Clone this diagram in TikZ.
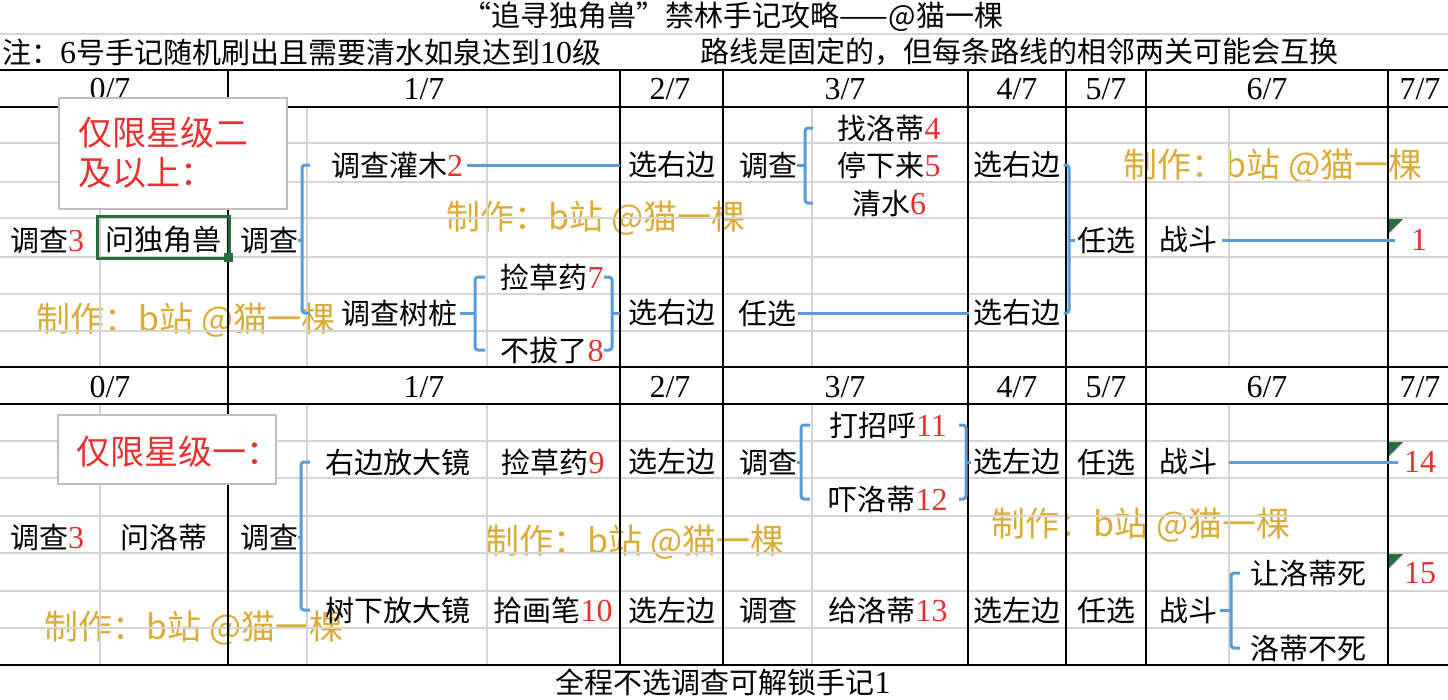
\documentclass[tikz,border=0pt]{standalone}
\usepackage{fontspec}
\setmainfont{Noto Sans CJK SC}
\newfontfamily\ser{Liberation Serif}
\usetikzlibrary{calc}
\definecolor{numred}{RGB}{232,48,48}
\definecolor{conblue}{RGB}{91,155,213}
\definecolor{gridgray}{RGB}{212,212,212}
\definecolor{boxgray}{RGB}{190,190,190}
\definecolor{wmgold}{RGB}{214,164,34}
\definecolor{selgreen}{RGB}{40,110,65}
\newcommand\fs{\fontsize{29}{32}\selectfont}
\newcommand\sfs{\fontsize{32}{34}\selectfont}
\newcommand\rn[1]{{\ser\sfs\color{numred}#1}}
\newcommand\sd[1]{{\ser\sfs #1}}
\begin{document}
\begin{tikzpicture}[x=1pt,y=-1pt,
  t/.style={font=\fs, inner sep=0pt},
  hd/.style={font=\ser\sfs, inner sep=0pt},
  wm/.style={font=\fontsize{34}{36}\selectfont, text=wmgold, inner sep=0pt, text opacity=0.9},
  conn/.style={draw=conblue, line width=3pt, rounded corners=3pt},
  gline/.style={draw=gridgray, line width=1.3pt},
  bline/.style={draw=black, line width=2pt},
  redbox/.style={draw=boxgray, fill=white, line width=1.5pt},
  redtxt/.style={font=\fontsize{34}{38}\selectfont, text=numred, inner sep=0pt}
]
\useasboundingbox (0,0) rectangle (1448,699);
\fill[white] (0,0) rectangle (1448,699);

% watermarks
\node[wm] (w1) at (596,218) {制作：b站 @猫一棵};
\node[wm] (w2) at (186,320) {制作：b站 @猫一棵};
\node[wm] (w3) at (1273,166) {制作：b站 @猫一棵};
\node[wm] (w4) at (635,542) {制作：b站 @猫一棵};
\node[wm] (w5) at (1141,525) {制作：b站 @猫一棵};
\node[wm] (w6) at (194,628) {制作：b站 @猫一棵};

% grid
\draw[gline] (0,34) -- (1448,34);
\foreach \y in {143,182,218,257,294,331,441,478,516,553,591,628}
  \draw[gline] (0,\y) -- (1448,\y);
\foreach \x in {100,307,487,812,1229} {
  \draw[gline] (\x,107) -- (\x,367);
  \draw[gline] (\x,404) -- (\x,665);
}
\foreach \y in {70,107,367,404,665}
  \draw[bline] (0,\y) -- (1448,\y);
\foreach \x in {228,620,723,968,1066,1146,1388}
  \draw[bline] (\x,70) -- (\x,665);

% title and notes
\node[t] (title) at (733,17) {“追寻独角兽”禁林手记攻略——@猫一棵};
\node[t,anchor=west] (note1) at (2,52) {注：\sd{6}号手记随机刷出且需要清水如泉达到\sd{10}级};
\node[t,anchor=west] (note2) at (700,52) {路线是固定的，但每条路线的相邻两关可能会互换};
\node[t] (foot) at (723,682) {全程不选调查可解锁手记\sd{1}};

% headers
\foreach \n/\x/\l in {0/110/0,1/424/1,2/670/2,3/845/3,4/1017/4,5/1106/5,6/1267/6,7/1420/7} {
  \node[hd] (h\n) at (\x,89) {\l/7};
  \node[hd] (g\n) at (\x,387) {\l/7};
}

% top section
\node[t] (a0) at (47,240) {调查\rn{3}};
\node[t] (a1) at (163,240) {问独角兽};
\node[t] (a2) at (269,240) {调查};
\node[t] (a3) at (397,165) {调查灌木\rn{2}};
\node[t] (a4) at (399,313) {调查树桩};
\node[t] (a5) at (552,277) {捡草药\rn{7}};
\node[t] (a6) at (552,350) {不拔了\rn{8}};
\node[t] (a7) at (672,165) {选右边};
\node[t] (a8) at (672,313) {选右边};
\node[t] (a9) at (768,165) {调查};
\node[t] (a10) at (889,128) {找洛蒂\rn{4}};
\node[t] (a11) at (889,165) {停下来\rn{5}};
\node[t] (a12) at (889,203) {清水\rn{6}};
\node[t] (a13) at (767,313) {任选};
\node[t] (a14) at (1017,165) {选右边};
\node[t] (a15) at (1017,313) {选右边};
\node[t] (a16) at (1106,240) {任选};
\node[t] (a17) at (1188,240) {战斗};
\node[t] (a18) at (1419,240) {\rn{1}};

% bottom section
\node[t] (b0) at (47,537) {调查\rn{3}};
\node[t] (b1) at (164,537) {问洛蒂};
\node[t] (b2) at (269,537) {调查};
\node[t] (b3) at (398,462) {右边放大镜};
\node[t] (b4) at (553,462) {捡草药\rn{9}};
\node[t] (b5) at (398,610) {树下放大镜};
\node[t] (b6) at (553,610) {拾画笔\rn{10}};
\node[t] (b7) at (672,462) {选左边};
\node[t] (b8) at (672,610) {选左边};
\node[t] (b9) at (768,462) {调查};
\node[t] (b10) at (768,610) {调查};
\node[t] (b11) at (888,425) {打招呼\rn{11}};
\node[t] (b12) at (888,499) {吓洛蒂\rn{12}};
\node[t] (b13) at (888,610) {给洛蒂\rn{13}};
\node[t] (b14) at (1017,462) {选左边};
\node[t] (b15) at (1017,610) {选左边};
\node[t] (b16) at (1106,462) {任选};
\node[t] (b17) at (1106,610) {任选};
\node[t] (b18) at (1188,462) {战斗};
\node[t] (b19) at (1188,610) {战斗};
\node[t] (b20) at (1420,462) {\rn{14}};
\node[t] (b21) at (1308,573) {让洛蒂死};
\node[t] (b22) at (1308,648) {洛蒂不死};
\node[t] (b23) at (1420,573) {\rn{15}};

% bracket x positions
\coordinate (k1) at (302,0);
\coordinate (k2) at (475,0);
\coordinate (k3) at (612,0);
\coordinate (k4) at (805,0);
\coordinate (k5) at (1069,0);
\coordinate (m1) at (301,0);
\coordinate (m2) at (801,0);
\coordinate (m3) at (966,0);
\coordinate (m4) at (1231,0);

% top connectors
\draw[conn] ([xshift=8pt]k1 |- a3) -- (k1 |- a3) -- (k1 |- a4) -- ([xshift=8pt]k1 |- a4);
\draw[conn] (a2.east) -- (k1 |- a2);
\draw[conn] ([xshift=4pt]a3.east) -- ([xshift=-8pt]a7.west);
\draw[conn] ([xshift=10pt]k2 |- a5) -- (k2 |- a5) -- (k2 |- a6) -- ([xshift=10pt]k2 |- a6);
\draw[conn] ([xshift=3pt]a4.east) -- (k2 |- a4);
\draw[conn] ([xshift=-8pt]k3 |- a5) -- (k3 |- a5) -- (k3 |- a6) -- ([xshift=-8pt]k3 |- a6);
\draw[conn] (k3 |- a8) -- ([xshift=-8pt]a8.west);
\draw[conn] ([xshift=8pt]k4 |- a10) -- (k4 |- a10) -- (k4 |- a12) -- ([xshift=8pt]k4 |- a12);
\draw[conn] (a9.east) -- (k4 |- a9);
\draw[conn] ([xshift=2pt]a13.east) -- ([xshift=-4pt]a15.west);
\draw[conn] ([xshift=3pt]a14.east) -- (k5 |- a14) -- (k5 |- a15) -- ([xshift=3pt]a15.east);
\draw[conn] (k5 |- a16) -- ([xshift=-2pt]a16.west);
\draw[conn] ([xshift=5pt]a17.east) -- ([xshift=-16pt]a18.west);

% bottom connectors
\draw[conn] ([xshift=9pt]m1 |- b3) -- (m1 |- b3) -- (m1 |- b5) -- ([xshift=9pt]m1 |- b5);
\draw[conn] (b2.east) -- (m1 |- b2);
\draw[conn] ([xshift=9pt]m2 |- b11) -- (m2 |- b11) -- (m2 |- b12) -- ([xshift=9pt]m2 |- b12);
\draw[conn] (b9.east) -- (m2 |- b9);
\draw[conn] ([xshift=-7pt]m3 |- b11) -- (m3 |- b11) -- (m3 |- b12) -- ([xshift=-7pt]m3 |- b12);
\draw[conn] (m3 |- b14) -- ([xshift=-2pt]b14.west);
\draw[conn] ([xshift=12pt]b18.east) -- ([xshift=-6pt]b20.west);
\draw[conn] ([xshift=9pt]m4 |- b21) -- (m4 |- b21) -- (m4 |- b22) -- ([xshift=9pt]m4 |- b22);
\draw[conn] ([xshift=3pt]b19.east) -- (m4 |- b19);

% selection box and indicators
\draw[selgreen, line width=3pt] (97,216) rectangle (229,258);
\fill[selgreen] (224,253) rectangle (233,262);
\fill[selgreen] (1389,219) -- (1403,219) -- (1389,233) -- cycle;
\fill[selgreen] (1389,442) -- (1403,442) -- (1389,456) -- cycle;
\fill[selgreen] (1389,554) -- (1403,554) -- (1389,568) -- cycle;

% star-level boxes
\draw[redbox] (59,98) rectangle (287,209);
\node[redtxt, anchor=west] (r1) at (78,133) {仅限星级二};
\node[redtxt, anchor=west] (r2) at (78,173) {及以上：};
\draw[redbox] (58,415) rectangle (276,484);
\node[redtxt, anchor=west] (r3) at (76,452) {仅限星级一：};
\end{tikzpicture}
\end{document}
